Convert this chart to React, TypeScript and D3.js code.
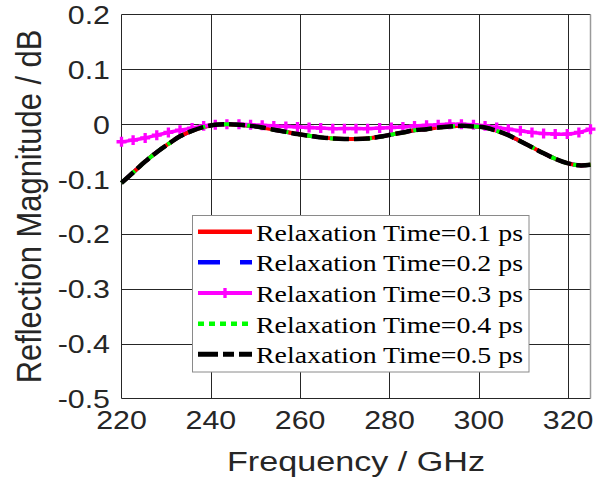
import { useEffect, useRef } from "react";
import * as d3 from "d3";

// frequency samples (GHz)
const freq = [220, 222.6, 225.3, 227.9, 230.5, 233.1, 235.8, 238.4, 241, 243.6, 246.3, 248.9, 251.5, 254.1, 256.8, 259.4, 262, 264.6, 267.3, 269.9, 272.5, 275.1, 277.8, 280.4, 283, 285.6, 288.3, 290.9, 293.5, 296.1, 298.8, 301.4, 304, 306.6, 309.3, 311.9, 314.5, 317.1, 319.8, 322.4, 325];

// 0.1 / 0.2 / 0.4 / 0.5 ps lie on top of each other
const tauCommon = [-0.107, -0.088, -0.068, -0.051, -0.036, -0.022, -0.012, -0.005, -0.001, 0.0, -0.001, -0.003, -0.006, -0.010, -0.014, -0.018, -0.021, -0.024, -0.026, -0.027, -0.027, -0.026, -0.023, -0.019, -0.015, -0.011, -0.009, -0.006, -0.004, -0.003, -0.004, -0.006, -0.012, -0.020, -0.031, -0.042, -0.053, -0.063, -0.071, -0.075, -0.074];

const tau03 = [-0.032, -0.029, -0.025, -0.020, -0.015, -0.011, -0.007, -0.003, -0.001, 0.0, 0.0, -0.001, -0.002, -0.003, -0.004, -0.005, -0.006, -0.007, -0.008, -0.008, -0.008, -0.008, -0.007, -0.006, -0.005, -0.003, -0.002, -0.001, 0.0, 0.0, -0.001, -0.003, -0.006, -0.009, -0.012, -0.015, -0.017, -0.018, -0.018, -0.015, -0.009];

const xTicks = [220, 240, 260, 280, 300, 320];
const yTicks = [0.2, 0.1, 0, -0.1, -0.2, -0.3, -0.4, -0.5];
const yTickLabels = ["0.2", "0.1", "0", "-0.1", "-0.2", "-0.3", "-0.4", "-0.5"];

const seriesNames = ["Relaxation Time=0.1 ps", "Relaxation Time=0.2 ps", "Relaxation Time=0.3 ps", "Relaxation Time=0.4 ps", "Relaxation Time=0.5 ps"];
const seriesValues = [tauCommon, tauCommon, tau03, tauCommon, tauCommon];
const seriesColors = ["#ff0000", "#0000ff", "#ff00ff", "#00ff00", "#000000"];
const seriesDash = ["none", "20,14", "none", "6,6", "16,5"];
const legendDash = ["none", "22,20", "none", "6,5", "20,5,11,5"];
const seriesWidth = [4, 4, 3.5, 4, 4.5];
// draw order so red hides blue like in the figure
const drawOrder = [1, 0, 2, 3, 4];

export default function App() {
  const ref = useRef<SVGSVGElement>(null);

  useEffect(() => {
    const svg = d3.select(ref.current);
    svg.selectAll("*").remove();

    const width = 608;
    const height = 481;
    const left = 121.5, right = 590.5, top = 14.5, bottom = 398.5;

    svg.attr("width", width).attr("height", height);
    svg.append("rect").attr("width", width).attr("height", height).attr("fill", "#fff");

    const x = d3.scaleLinear().domain([220, 325]).range([left, right]);
    const y = d3.scaleLinear().domain([-0.5, 0.2]).range([bottom, top]);

    const gridColor = "#262626";

    // grid
    svg.append("g")
      .selectAll("line")
      .data(xTicks.slice(1))
      .join("line")
      .attr("x1", d => Math.round(x(d)) + 0.5)
      .attr("x2", d => Math.round(x(d)) + 0.5)
      .attr("y1", top)
      .attr("y2", bottom)
      .attr("stroke", gridColor)
      .attr("stroke-width", 1);

    svg.append("g")
      .selectAll("line")
      .data(yTicks.slice(1, -1))
      .join("line")
      .attr("x1", left)
      .attr("x2", right)
      .attr("y1", d => Math.round(y(d)) + 0.5)
      .attr("y2", d => Math.round(y(d)) + 0.5)
      .attr("stroke", gridColor)
      .attr("stroke-width", 1);

    // frame
    svg.append("line").attr("x1", left).attr("x2", left).attr("y1", top).attr("y2", bottom).attr("stroke", gridColor);
    svg.append("line").attr("x1", left).attr("x2", right).attr("y1", bottom).attr("y2", bottom).attr("stroke", gridColor);
    svg.append("line").attr("x1", left).attr("x2", right).attr("y1", top).attr("y2", top).attr("stroke", gridColor);
    svg.append("line").attr("x1", right).attr("x2", right).attr("y1", top).attr("y2", bottom).attr("stroke", "#9a9a9a").attr("stroke-width", 1.5);

    // tick labels
    const tickFont = "Liberation Sans, Arial, sans-serif";
    svg.append("g")
      .selectAll("text")
      .data(yTicks)
      .join("text")
      .attr("transform", d => `translate(110,${y(d) + 9.5}) scale(1.19,1)`)
      .attr("text-anchor", "end")
      .attr("font-family", tickFont)
      .attr("font-size", 25.5)
      .attr("fill", "#262626")
      .text((d, i) => yTickLabels[i]);

    svg.append("g")
      .selectAll("text")
      .data(xTicks)
      .join("text")
      .attr("transform", d => `translate(${x(d)},428.5) scale(1.19,1)`)
      .attr("text-anchor", "middle")
      .attr("font-family", tickFont)
      .attr("font-size", 25.5)
      .attr("fill", "#262626")
      .text(d => String(d));

    // axis titles
    svg.append("text")
      .attr("transform", `translate(${(left + right) / 2},471) scale(1.22,1)`)
      .attr("text-anchor", "middle")
      .attr("font-family", tickFont)
      .attr("font-size", 28)
      .attr("fill", "#262626")
      .text("Frequency / GHz");

    svg.append("text")
      .attr("transform", `translate(41,${(top + bottom) / 2}) rotate(-90) scale(1.03,1.16)`)
      .attr("text-anchor", "middle")
      .attr("font-family", tickFont)
      .attr("font-size", 30)
      .attr("fill", "#262626")
      .text("Reflection Magnitude / dB");

    // curves
    const line = d3.line<number>()
      .x((d, i) => x(freq[i]))
      .y(d => y(d))
      .curve(d3.curveCatmullRom);

    const markerPath = d3.symbol(d3.symbolCross, 55)();

    const plot = svg.append("g");
    drawOrder.forEach(k => {
      plot.append("path")
        .attr("d", line(seriesValues[k]))
        .attr("fill", "none")
        .attr("stroke", seriesColors[k])
        .attr("stroke-width", seriesWidth[k])
        .attr("stroke-dasharray", seriesDash[k]);
      if (k === 2) {
        plot.append("g")
          .selectAll("path")
          .data(seriesValues[k])
          .join("path")
          .attr("transform", (d, i) => `translate(${x(freq[i])},${y(d)})`)
          .attr("d", markerPath)
          .attr("fill", seriesColors[k]);
      }
    });

    // legend
    const lg = svg.append("g");
    lg.append("rect")
      .attr("x", 192.5)
      .attr("y", 215.5)
      .attr("width", 336.5)
      .attr("height", 156.5)
      .attr("fill", "#fff")
      .attr("stroke", "#8a8a8a")
      .attr("stroke-width", 1);

    seriesNames.forEach((name, i) => {
      const base = 240.7 + i * 30.65;
      const cy = base - 9;
      lg.append("line")
        .attr("x1", 198)
        .attr("x2", 252)
        .attr("y1", cy)
        .attr("y2", cy)
        .attr("stroke", seriesColors[i])
        .attr("stroke-width", seriesWidth[i] + 0.5)
        .attr("stroke-dasharray", legendDash[i]);
      if (i === 2) {
        lg.append("path")
          .attr("transform", `translate(225,${cy})`)
          .attr("d", markerPath)
          .attr("fill", seriesColors[i]);
      }
      lg.append("text")
        .attr("transform", `translate(256,${base}) scale(1.16,1)`)
        .attr("font-family", "Liberation Serif, Times New Roman, serif")
        .attr("font-size", 24)
        .attr("fill", "#000")
        .text(name);
    });
  }, []);

  return <svg ref={ref} style={{ position: "absolute", left: 0, top: 0 }}></svg>;
}
